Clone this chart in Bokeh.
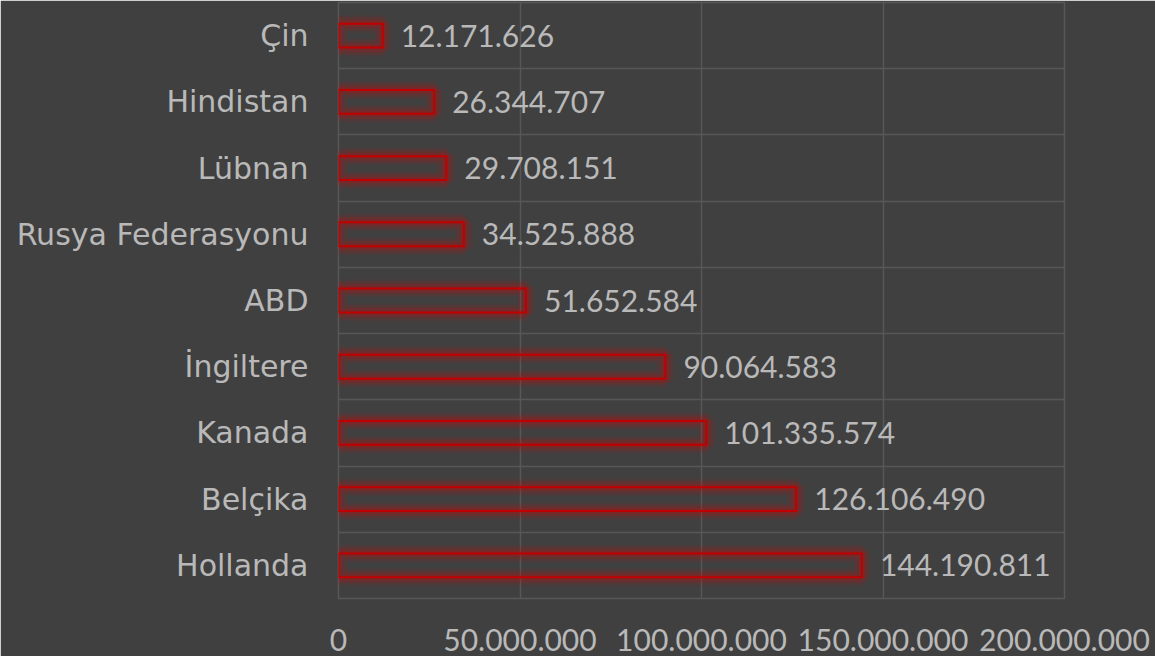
from bokeh.plotting import figure
from bokeh.models import FixedTicker, Range1d, ColumnDataSource
from bokeh.core.properties import value
from bokeh.embed import file_html
from bokeh.resources import INLINE

countries = ["Çin", "Hindistan", "Lübnan", "Rusya Federasyonu", "ABD",
             "İngiltere", "Kanada", "Belçika", "Hollanda"]
values = [12171626, 26344707, 29708151, 34525888, 51652584,
          90064583, 101335574, 126106490, 144190811]
x_ticks = [0, 50000000, 100000000, 150000000, 200000000]

BG = "#404040"
GRID = "#575757"
TXT = "#b9b9b9"
RED = "#c00000"
NUM_FONT = "Lato"
CAT_FONT = "DejaVu Sans"
FS = "30px"


def dotted(v):
    return f"{int(v):,}".replace(",", ".")


n = len(countries)
ypos = [n - 0.5 - i for i in range(n)]
src = ColumnDataSource(dict(y=ypos, v=values, lab=[dotted(v) for v in values]))

p = figure(width=1155, height=656, output_backend="svg", toolbar_location=None,
           x_range=Range1d(0, 200000000), y_range=Range1d(0, n),
           min_border_left=338, min_border_right=91, min_border_top=2,
           min_border_bottom=58)
p.background_fill_color = BG
p.border_fill_color = BG
p.outline_line_color = GRID
p.outline_line_width = 1.5

# glow layers
for lw, a in [(18, 0.06), (14, 0.08), (10, 0.11), (6, 0.16)]:
    p.hbar(y="y", right="v", left=0, height=0.36, source=src, fill_color=None,
           line_color="#e00000", line_alpha=a, line_width=lw)
p.hbar(y="y", right="v", left=0, height=0.36, source=src, fill_color=None,
       line_color=RED, line_width=2)

p.text(x="v", y="y", text="lab", source=src, x_offset=18,
       text_baseline="middle", text_align="left", text_color=TXT,
       text_font=value(NUM_FONT), text_font_size=FS)

p.xaxis.ticker = FixedTicker(ticks=x_ticks)
p.xaxis.major_label_overrides = {t: dotted(t) for t in x_ticks}
p.xgrid.ticker = FixedTicker(ticks=x_ticks)
p.yaxis.ticker = FixedTicker(ticks=ypos)
p.yaxis.major_label_overrides = {y: c for y, c in zip(ypos, countries)}
p.ygrid.ticker = FixedTicker(ticks=list(range(n + 1)))

for g in (p.xgrid, p.ygrid):
    g.grid_line_color = GRID
    g.grid_line_width = 1.5

for ax in (p.xaxis, p.yaxis):
    ax.axis_line_color = None
    ax.major_tick_line_color = None
    ax.minor_tick_line_color = None
    ax.major_tick_out = 0
    ax.major_tick_in = 0
    ax.major_label_text_color = TXT
    ax.major_label_text_font_size = FS
p.xaxis.major_label_text_font = NUM_FONT
p.yaxis.major_label_text_font = CAT_FONT
p.yaxis.major_label_standoff = 30
p.xaxis.major_label_standoff = 30

open("out.html", "w").write(file_html(p, INLINE))
